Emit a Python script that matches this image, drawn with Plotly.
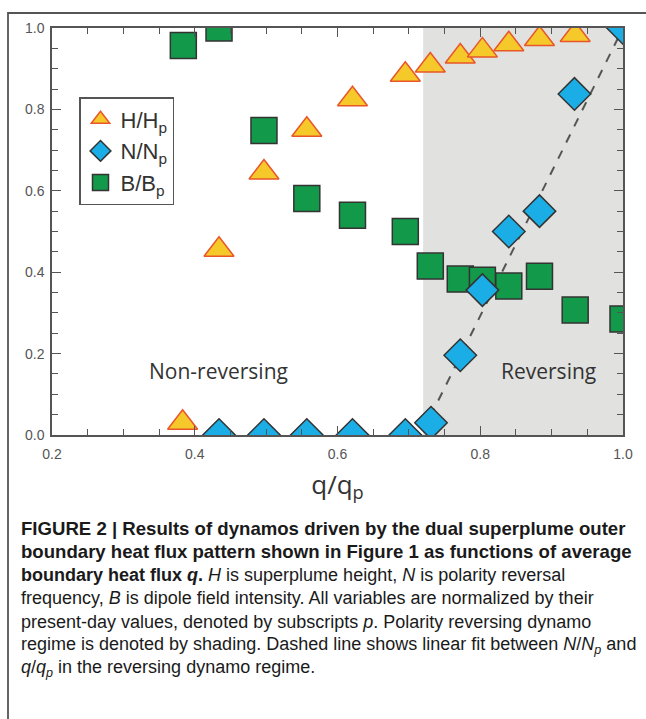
import plotly.graph_objects as go

# ---------------- data ----------------
h_x = [0.383, 0.434, 0.497, 0.557, 0.621, 0.695, 0.730, 0.772, 0.803, 0.840, 0.883, 0.933]
h_y = [0.030, 0.455, 0.645, 0.750, 0.825, 0.885, 0.908, 0.930, 0.945, 0.960, 0.973, 0.983]

n_x = [0.434, 0.497, 0.557, 0.621, 0.695, 0.731, 0.772, 0.803, 0.840, 0.883, 0.932, 1.000]
n_y = [0.000, 0.000, 0.000, 0.000, 0.000, 0.030, 0.196, 0.356, 0.500, 0.550, 0.838, 1.000]

b_x = [0.384, 0.434, 0.497, 0.557, 0.621, 0.695, 0.730, 0.772, 0.803, 0.840, 0.883, 0.933, 1.000]
b_y = [0.957, 1.000, 0.748, 0.581, 0.540, 0.500, 0.415, 0.383, 0.380, 0.366, 0.390, 0.307, 0.285]

fit_x = [0.730, 1.000]
fit_y = [0.045, 1.000]

reversing_start = 0.72

x_ticks = [0.2, 0.4, 0.6, 0.8, 1.0]
y_ticks = [0.0, 0.2, 0.4, 0.6, 0.8, 1.0]

caption_lines = [
    "<b>FIGURE 2 | Results of dynamos driven by the dual superplume outer</b>",
    "<b>boundary heat flux pattern shown in Figure 1 as functions of average</b>",
    "<b>boundary heat flux <i>q</i>.</b> <i>H</i> is superplume height, <i>N</i> is polarity reversal",
    "frequency, <i>B</i> is dipole field intensity. All variables are normalized by their",
    "present-day values, denoted by subscripts <i>p</i>. Polarity reversing dynamo",
    "regime is denoted by shading. Dashed line shows linear fit between <i>N</i>/<i>N<sub>p</sub></i> and",
    "<i>q</i>/<i>q<sub>p</sub></i> in the reversing dynamo regime.",
]
caption_sizes = [18.6, 18.6, 18, 18, 18, 18, 18]

# ---------------- figure ----------------
W, H = 646, 719
L, R, T, B = 52, 23, 28, 284
PW, PH = W - L - R, H - T - B


def px_x(p):
    return (p - L) / PW


def px_y(p):
    return (H - B - p) / PH


fig = go.Figure()

fig.add_trace(go.Scatter(
    x=fit_x, y=fit_y, mode="lines",
    line=dict(color="#555555", width=2, dash="dash"),
    showlegend=False, hoverinfo="skip"))

fig.add_trace(go.Scatter(
    x=h_x, y=h_y, mode="markers", name="H/H<sub>p</sub>", legendrank=1,
    marker=dict(symbol="triangle-up", size=26, color="#F6C92B",
                line=dict(color="#E8562A", width=1.5))))

fig.add_trace(go.Scatter(
    x=b_x, y=b_y, mode="markers", name="B/B<sub>p</sub>", legendrank=3,
    marker=dict(symbol="square", size=26, color="#13994A",
                line=dict(color="#333333", width=1.5))))

fig.add_trace(go.Scatter(
    x=n_x, y=n_y, mode="markers", name="N/N<sub>p</sub>", legendrank=2,
    marker=dict(symbol="diamond", size=25, color="#1BAEE6",
                line=dict(color="#333333", width=1.5))))

fig.add_shape(type="rect", xref="x", yref="y", x0=reversing_start, x1=1.0,
              y0=0, y1=1, fillcolor="#E1E1DF", line=dict(width=0), layer="below")

# outer figure frame (left and top edges; right/bottom lie outside the page)
fig.add_shape(type="rect", xref="paper", yref="paper", layer="above",
              x0=px_x(8), x1=px_x(700), y0=px_y(780), y1=px_y(13),
              fillcolor="rgba(0,0,0,0)",
              line=dict(color="#555555", width=1.8))

fig.add_annotation(x=0.433, y=0.158, xref="x", yref="y", text="Non-reversing",
                   showarrow=False, font=dict(family="Open Sans", size=21, color="#333333"))
fig.add_annotation(x=0.896, y=0.158, xref="x", yref="y", text="Reversing",
                   showarrow=False, font=dict(family="Open Sans", size=21, color="#333333"))

for i, (line, sz) in enumerate(zip(caption_lines, caption_sizes)):
    fig.add_annotation(x=px_x(19), y=px_y(528.5 + i * 23.3), xref="paper", yref="paper",
                       text=line, showarrow=False, xanchor="left", yanchor="middle",
                       font=dict(family="Liberation Sans", size=sz, color="#1a1a1a"))

axis_common = dict(
    showline=True, linecolor="#555555", linewidth=1.5, mirror="ticks",
    ticks="inside", ticklen=9, tickwidth=1.3, tickcolor="#555555",
    showgrid=False, zeroline=False,
    tickfont=dict(family="Liberation Sans", size=14, color="#555555"),
    tickformat=".1f",
    minor=dict(dtick=0.05, ticks="inside", ticklen=6, tickwidth=1.1, tickcolor="#555555", showgrid=False),
)

fig.update_xaxes(range=[0.2, 1.0], tickvals=x_ticks, ticklabelstandoff=5, **axis_common,
                 title=dict(text="q/q<sub>p</sub>", standoff=15,
                            font=dict(family="Open Sans", size=26, color="#333333")))
fig.update_yaxes(range=[0.0, 1.0], tickvals=y_ticks, ticklabelstandoff=3, **axis_common)

fig.update_layout(
    width=W, height=H,
    margin=dict(l=L, r=R, t=T, b=B, pad=0),
    paper_bgcolor="white", plot_bgcolor="white",
    showlegend=True,
    legend=dict(x=px_x(79), y=px_y(97), xanchor="left", yanchor="top",
                bgcolor="white", bordercolor="#555555", borderwidth=1.5,
                font=dict(family="Liberation Sans", size=22, color="#333333"),
                itemsizing="trace", tracegroupgap=0),
)

fig.write_html(
    "out.html",
    config={"displayModeBar": False},
    post_script=(
        "document.documentElement.style.margin='0';"
        "document.body.style.margin='0';"
        "document.body.style.overflow='hidden';"
        "window.scrollTo(0,0);"
    ),
)
